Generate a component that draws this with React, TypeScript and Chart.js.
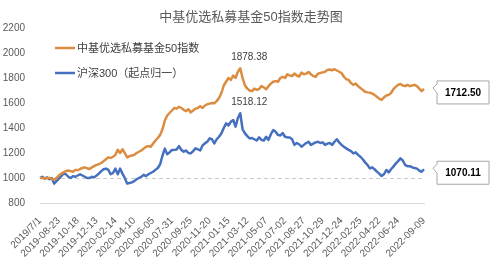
import React, { useEffect, useRef } from 'react';
import { Chart, registerables } from 'chart.js';

Chart.register(...registerables);

const TITLE = '中基优选私募基金50指数走势图';
const SERIES_NAMES = ['中基优选私募基金50指数', '沪深300（起点归一）'];
const TICK_LABELS = [
  '2019/7/1', '2019-08-23', '2019-10-18', '2019-12-13', '2020-02-14', '2020-04-10', '2020-06-05',
  '2020-07-31', '2020-09-25', '2020-11-20', '2021-01-15', '2021-03-12', '2021-05-07', '2021-07-02',
  '2021-08-27', '2021-10-29', '2021-12-24', '2022-02-25', '2022-04-22', '2022-06-24', '2022-09-09',
];
const TICK_INDEX = [0, 8, 16, 24, 32, 40, 48, 56, 64, 72, 80, 88, 96, 104, 112, 120, 128, 136, 144, 152, 163];

const FUND = [
  1000, 1000, 995, 1000, 1000, 995, 985, 1000, 1020, 1035,
  1045, 1055, 1060, 1055, 1050, 1065, 1062, 1072, 1080, 1085,
  1078, 1072, 1085, 1095, 1105, 1110, 1120, 1135, 1150, 1165,
  1160, 1170, 1185, 1225, 1200, 1230, 1200, 1165, 1175, 1180,
  1185, 1200, 1210, 1220, 1235, 1250, 1255, 1250, 1275, 1300,
  1320, 1345, 1390, 1460, 1500, 1520, 1540, 1560, 1555, 1570,
  1560, 1545, 1535, 1550, 1525, 1540, 1555, 1560, 1575, 1560,
  1580, 1590, 1595, 1600, 1598, 1615, 1640, 1680, 1740, 1770,
  1800, 1785, 1820, 1800, 1850, 1878.38, 1800, 1740, 1715, 1700,
  1695, 1715, 1705, 1712, 1735, 1725, 1710, 1735, 1755, 1770,
  1775, 1770, 1800, 1810, 1800, 1830, 1820, 1815, 1836, 1820,
  1812, 1843, 1830, 1835, 1848, 1830, 1815, 1810, 1835, 1840,
  1845, 1850, 1865, 1868, 1862, 1870, 1860, 1850, 1840, 1810,
  1790, 1785, 1760, 1745, 1755, 1735, 1720, 1705, 1690, 1685,
  1683, 1675, 1665, 1650, 1635, 1624, 1645, 1660, 1665, 1680,
  1710, 1730, 1745, 1752, 1740, 1735, 1745, 1735, 1740, 1745,
  1735, 1715, 1695, 1712.5,
];

const HS300 = [
  1000, 1010, 995, 1005, 990, 1000, 955, 975, 995, 1015,
  1035, 1030, 1010, 1000, 1015, 1010, 1020, 1030, 1020, 1010,
  1000, 1000, 1010, 1005, 1020, 1035, 1055, 1070, 1075, 1065,
  1030, 1040, 1075, 1030, 1075, 1035, 1000, 955, 960, 965,
  975, 990, 1000, 1010, 1025, 1015, 1030, 1040, 1050, 1065,
  1080, 1110, 1180, 1235, 1190, 1205, 1225, 1225, 1228, 1255,
  1225, 1211, 1220, 1200, 1197, 1215, 1237, 1230, 1220, 1260,
  1277, 1290, 1317, 1310, 1277, 1310, 1330, 1357, 1400, 1437,
  1420, 1450, 1464, 1411, 1480, 1518.12, 1390, 1357, 1335, 1317,
  1320, 1310, 1300, 1325, 1305, 1300, 1330, 1305, 1350, 1384,
  1370, 1345, 1340, 1360, 1330, 1325, 1325, 1310, 1265, 1280,
  1270, 1250, 1265, 1280, 1290, 1265, 1275, 1285, 1290, 1280,
  1285, 1265, 1275, 1280, 1265, 1290, 1310, 1285, 1265, 1250,
  1237, 1225, 1215, 1197, 1205, 1185, 1170, 1150, 1125, 1105,
  1077, 1085, 1070, 1051, 1035, 1016, 1030, 1064, 1045, 1070,
  1091, 1115, 1135, 1157, 1140, 1104, 1095, 1095, 1085, 1080,
  1075, 1059, 1050, 1070.11,
];

const Y_MIN = 800;
const Y_MAX = 2200;
const Y_STEP = 200;
const BASELINE = 1000;

const COLORS = ['#DB8C3E', '#4470BF'];
const FONT = '"Liberation Sans", "Noto Sans CJK SC", sans-serif';

const categories = FUND.map((_, i) => {
  const k = TICK_INDEX.indexOf(i);
  return k >= 0 ? TICK_LABELS[k] : '';
});

const fmt = (v: number) => v.toFixed(2);

const overlay = {
  id: 'overlay',
  afterDatasetsDraw(chart: any) {
    const ctx = chart.ctx as CanvasRenderingContext2D;
    const xs = chart.scales.x;
    const ys = chart.scales.y;
    ctx.save();

    // Title
    ctx.font = `13px ${FONT}`;
    ctx.fillStyle = '#595959';
    ctx.textAlign = 'center';
    ctx.textBaseline = 'middle';
    ctx.fillText(TITLE, 251, 17);

    // Legend
    ctx.font = `11px ${FONT}`;
    ctx.textAlign = 'left';
    const legY = [48, 73];
    SERIES_NAMES.forEach((name, i) => {
      ctx.strokeStyle = COLORS[i];
      ctx.lineWidth = 2.5;
      ctx.beginPath();
      ctx.moveTo(55, legY[i]);
      ctx.lineTo(75, legY[i]);
      ctx.stroke();
      ctx.fillStyle = '#404040';
      ctx.fillText(name, 77, legY[i] + 0.5);
    });

    // Peak labels
    ctx.font = `10px ${FONT}`;
    ctx.textAlign = 'center';
    ctx.fillStyle = '#404040';
    [FUND, HS300].forEach((arr) => {
      let mi = 0;
      arr.forEach((v, i) => { if (v > arr[mi]) mi = i; });
      const px = xs.getPixelForValue(mi);
      const py = ys.getPixelForValue(arr[mi]);
      ctx.fillText(fmt(arr[mi]), px + 9, py - 11);
    });

    // Callouts for last values
    [FUND, HS300].forEach((arr) => {
      const li = arr.length - 1;
      const px = xs.getPixelForValue(li);
      const py = ys.getPixelForValue(arr[li]);
      const left = px + 13;
      const top = py - 8;
      const w = 52;
      const h = 23;
      ctx.beginPath();
      ctx.moveTo(left, top);
      ctx.lineTo(left + w, top);
      ctx.lineTo(left + w, top + h);
      ctx.lineTo(left, top + h);
      ctx.lineTo(left, top + 12);
      ctx.lineTo(left - 4, top + 7);
      ctx.lineTo(left, top + 3);
      ctx.closePath();
      ctx.fillStyle = '#ffffff';
      ctx.fill();
      ctx.strokeStyle = '#a6a6a6';
      ctx.lineWidth = 1;
      ctx.stroke();
      ctx.fillStyle = '#000000';
      ctx.font = `bold 10px ${FONT}`;
      ctx.textAlign = 'center';
      ctx.textBaseline = 'middle';
      ctx.fillText(fmt(arr[li]), left + w / 2, top + h / 2 + 0.5);
    });

    ctx.restore();
  },
};

export default function App() {
  const ref = useRef<HTMLCanvasElement | null>(null);

  useEffect(() => {
    document.body.style.margin = '0';
    const canvas = ref.current;
    if (!canvas) return;
    const chart = new Chart(canvas, {
      type: 'line',
      data: {
        labels: categories,
        datasets: [
          {
            label: SERIES_NAMES[0],
            data: FUND,
            borderColor: COLORS[0],
            borderWidth: 2.5,
            pointRadius: 0,
            tension: 0,
            borderJoinStyle: 'round',
          },
          {
            label: SERIES_NAMES[1],
            data: HS300,
            borderColor: COLORS[1],
            borderWidth: 2.5,
            pointRadius: 0,
            tension: 0,
            borderJoinStyle: 'round',
          },
        ],
      },
      options: {
        responsive: false,
        maintainAspectRatio: false,
        animation: false,
        layout: { padding: { top: 28, right: 76, left: 0, bottom: 0 } },
        plugins: { legend: { display: false }, tooltip: { enabled: false }, title: { display: false } },
        scales: {
          x: {
            grid: { display: false },
            border: { display: true, color: '#d9d9d9', width: 1 },
            ticks: {
              autoSkip: false,
              maxRotation: 45,
              minRotation: 45,
              color: '#595959',
              font: { family: FONT, size: 10 },
              padding: 4,
            },
            afterFit: (s: any) => { s.height = 58; },
          },
          y: {
            min: Y_MIN,
            max: Y_MAX,
            grid: {
              display: true,
              drawTicks: false,
              color: (c: any) => (c.tick && c.tick.value === BASELINE ? '#c8c8c8' : 'rgba(0,0,0,0)'),
              lineWidth: 1,
            },
            border: { display: false, dash: [4, 3] },
            ticks: {
              stepSize: Y_STEP,
              color: '#595959',
              font: { family: FONT, size: 10 },
              padding: 15,
              callback: (v: any) => String(v),
            },
            afterFit: (s: any) => { s.width = 40; },
          },
        },
      },
      plugins: [overlay],
    });
    return () => chart.destroy();
  }, []);

  return (
    <div style={{ width: 500, height: 261, background: '#ffffff' }}>
      <canvas ref={ref} width={500} height={261} style={{ display: 'block' }} />
    </div>
  );
}
